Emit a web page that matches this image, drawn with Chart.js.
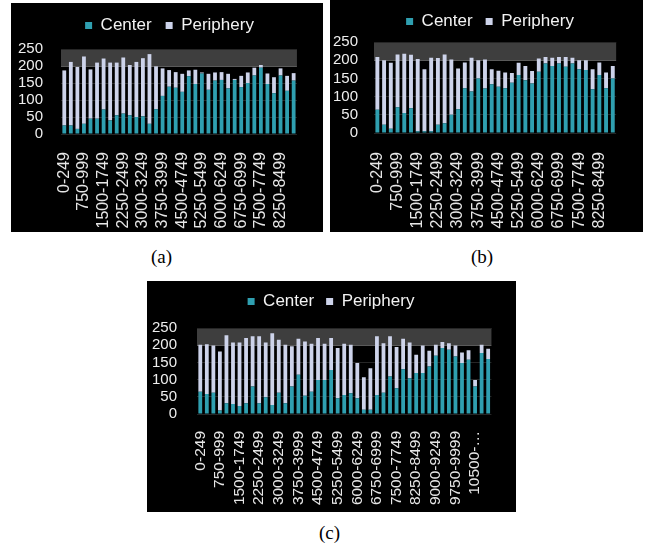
<!DOCTYPE html>
<html>
<head>
<meta charset="utf-8">
<script src="https://cdn.jsdelivr.net/npm/chart.js@4.4.1/dist/chart.umd.min.js"></script>
<style>
  body { margin: 0; background: #fff; width: 646px; height: 548px; position: relative; overflow: hidden; }
  .panel { position: absolute; background: #000; }
  .caption { position: absolute; font-family: "Liberation Serif", serif; font-size: 19px; color: #000; }
</style>
</head>
<body>
<div class="panel" style="left:11px;top:3px;width:312px;height:229px"><canvas id="chartA"></canvas></div>
<div class="panel" style="left:330px;top:0px;width:313px;height:232px"><canvas id="chartB"></canvas></div>
<div class="panel" style="left:147px;top:281px;width:369px;height:231px"><canvas id="chartC"></canvas></div>
<div class="caption" style="left:151px;top:246px">(a)</div>
<div class="caption" style="left:471px;top:246px">(b)</div>
<div class="caption" style="left:319px;top:522px">(c)</div>
<script>
// distance bins (250 wide)
const bins = [
  "0-249", "250-499", "500-749", "750-999", "1000-1249", "1250-1499", "1500-1749", "1750-1999",
  "2000-2249", "2250-2499", "2500-2749", "2750-2999", "3000-3249", "3250-3499", "3500-3749",
  "3750-3999", "4000-4249", "4250-4499", "4500-4749", "4750-4999", "5000-5249", "5250-5499",
  "5500-5749", "5750-5999", "6000-6249", "6250-6499", "6500-6749", "6750-6999", "7000-7249",
  "7250-7499", "7500-7749", "7750-7999", "8000-8249", "8250-8499", "8500-8749", "8750-8999",
  "9000-9249", "9250-9499", "9500-9749", "9750-9999", "10000-10249", "10250-10499",
  "10500-10749", "10750-10999", "11000-11249"
];
const yTicks = [0, 50, 100, 150, 200, 250];

const centerA = [25, 25, 15, 30, 45, 45, 72, 40, 55, 60, 55, 50, 52, 30, 73, 112, 139, 136,
  124, 170, 147, 178, 130, 157, 159, 134, 159, 138, 150, 172, 195, 147, 120, 172, 127, 157];
const peripheryA = [162, 187, 182, 198, 145, 165, 150, 170, 155, 165, 148, 162, 171, 205, 126, 81, 49, 46,
  53, 17, 42, 3, 47, 24, 23, 43, 3, 33, 31, 23, 8, 31, 47, 21, 44, 22];

const centerB = [64, 23, 12, 71, 55, 68, 5, 5, 5, 23, 27, 50, 65, 123, 114, 150, 122, 134,
  127, 123, 138, 159, 145, 136, 168, 191, 184, 191, 182, 191, 175, 173, 120, 159, 123, 150];
const peripheryB = [145, 177, 181, 145, 163, 147, 198, 170, 202, 183, 189, 152, 112, 71, 93, 50, 80, 41,
  44, 43, 27, 34, 39, 34, 37, 18, 23, 18, 27, 16, 25, 27, 55, 35, 43, 34];

const centerC = [65, 58, 62, 10, 31, 29, 23, 31, 80, 31, 49, 26, 62, 31, 80, 114, 53, 65, 99, 99, 128,
  46, 55, 60, 46, 12, 12, 55, 62, 109, 75, 130, 104, 119, 119, 138, 169, 192, 187, 167, 148, 158, 80, 177, 160];
const peripheryC = [136, 145, 137, 172, 198, 179, 185, 190, 146, 195, 159, 209, 154, 170, 117, 105, 158, 139, 122, 105, 93,
  146, 149, 141, 102, 95, 121, 171, 144, 117, 120, 89, 104, 53, 80, 46, 32, 17, 19, 32, 31, 27, 19, 24, 30];

const TEAL = "#2f9fb0";
const LAVENDER = "#cdd3ea";
const FONT = "'Liberation Sans', Arial, sans-serif";

// grey band behind the top of the plot (200-250)
const bandPlugin = {
  id: "band",
  beforeDraw(chart) {
    const { ctx, chartArea, scales } = chart;
    const top = scales.y.getPixelForValue(250);
    const bottom = scales.y.getPixelForValue(200);
    ctx.save();
    ctx.fillStyle = "#3e3e3e";
    ctx.fillRect(chartArea.left, top, chartArea.right - chartArea.left, bottom - top);
    ctx.restore();
  }
};

// fixed legend height, and a small sideways nudge of the legend
function legendPlacement(h, dx) {
  return {
    id: "legendPlacement",
    beforeInit(chart) {
      const fit = chart.legend.fit;
      chart.legend.fit = function () {
        fit.call(this);
        this.height = h;
      };
    },
    afterLayout(chart) {
      chart.legend.left += dx;
      chart.legend.right += dx;
    }
  };
}

function makePanel(canvasId, labels, center, periphery, cfg) {
  new Chart(document.getElementById(canvasId), {
    type: "bar",
    data: {
      labels,
      datasets: [
        { label: "Center", data: center, backgroundColor: TEAL, borderWidth: 0, barPercentage: 0.58, categoryPercentage: 1 },
        { label: "Periphery", data: periphery, backgroundColor: LAVENDER, borderWidth: 0, barPercentage: 0.58, categoryPercentage: 1 }
      ]
    },
    options: {
      responsive: true,
      maintainAspectRatio: false,
      animation: false,
      layout: { padding: { left: 0, right: cfg.padRight, top: 0, bottom: 0 } },
      plugins: {
        legend: {
          labels: { color: "#f2f2f2", font: { family: FONT, size: 17 }, boxWidth: 7, boxHeight: 7, padding: cfg.legendPad }
        },
        tooltip: { enabled: false }
      },
      scales: {
        x: {
          stacked: true,
          grid: { display: false },
          border: { display: false },
          ticks: {
            autoSkip: false,
            maxRotation: 90,
            minRotation: 90,
            padding: cfg.xPad,
            color: "#e6e6e6",
            font: { family: FONT, size: cfg.xFont },
            callback(value, index) {
              if (index % 3 !== 0) return "";
              const text = this.getLabelForValue(value);
              return text.length > 9 ? text.slice(0, 6) + "\u2026" : text;
            }
          },
          afterFit(scale) { scale.height = cfg.xHeight; }
        },
        y: {
          stacked: true,
          min: 0,
          max: 250,
          afterBuildTicks(scale) { scale.ticks = yTicks.map((v) => ({ value: v })); },
          ticks: { autoSkip: false, padding: cfg.yPad, color: "#eeeeee", font: { family: FONT, size: 15 } },
          grid: { color: (c) => (c.tick && c.tick.value === 200 ? "#5a5a5a" : "#262626"), drawTicks: false },
          border: { display: false },
          afterFit(scale) { scale.width = cfg.yWidth; }
        }
      }
    },
    plugins: [bandPlugin, legendPlacement(cfg.legendHeight, cfg.legendShift)]
  });
}

makePanel("chartA", bins.slice(0, centerA.length), centerA, peripheryA,
  { padRight: 11, yWidth: 50, yPad: 18, xHeight: 98, xPad: 10, xFont: 16, legendHeight: 46, legendPad: 14, legendShift: 8 });
makePanel("chartB", bins.slice(0, centerB.length), centerB, peripheryB,
  { padRight: 1, yWidth: 44, yPad: 16, xHeight: 99, xPad: 11, xFont: 16, legendHeight: 42, legendPad: 13, legendShift: 4 });
makePanel("chartC", bins.slice(0, centerC.length), centerC, peripheryC,
  { padRight: 21, yWidth: 50, yPad: 20, xHeight: 98, xPad: 9, xFont: 15.5, legendHeight: 47, legendPad: 12, legendShift: 10 });
</script>
</body>
</html>
